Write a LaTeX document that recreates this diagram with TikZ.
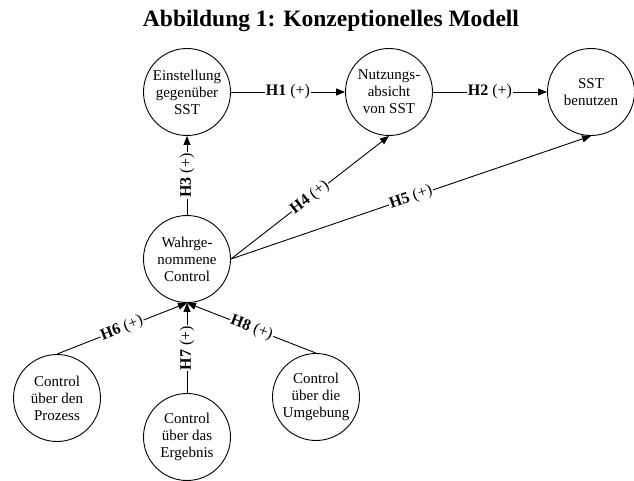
\documentclass[tikz,border=0pt]{standalone}
\usepackage{fontspec}
\setmainfont{Liberation Serif}
\usetikzlibrary{arrows.meta}
\begin{document}
\begin{tikzpicture}[x=1pt,y=-1pt,
  construct/.style={circle,draw,line width=0.9pt,minimum size=87pt,inner sep=0pt,
    align=center,font=\fontsize{15}{17}\selectfont},
  link/.style={line width=0.9pt,-{Triangle[length=9pt,width=7pt]}},
  hyp/.style={midway,fill=white,inner sep=1pt,font=\fontsize{16}{18}\selectfont}]
\useasboundingbox (0,0) rectangle (634,481);
\node[anchor=base,font=\fontsize{23.5}{26}\selectfont\bfseries] (title) at (331,27) {Abbildung 1: Konzeptionelles Modell};

\node[construct] (ein) at (187,92) {Einstellung\\gegenüber\\SST};
\node[construct] (nutz) at (389,92) {Nutzungs-\\absicht\\von SST};
\node[construct] (sst) at (591,92) {SST\\benutzen};
\node[construct] (wahr) at (187,259) {Wahrge-\\nommene\\Control};
\node[construct] (proz) at (57,398) {Control\\über den\\Prozess};
\node[construct] (erg) at (187,437) {Control\\über das\\Ergebnis};
\node[construct] (umg) at (316,397) {Control\\über die\\Umgebung};

\draw[link] (ein.east) -- node[hyp] {\textbf{H1} (+)} (nutz.west);
\draw[link] (nutz.east) -- node[hyp] {\textbf{H2} (+)} (sst.west);
\draw[link] (wahr.north) -- node[hyp,rotate=90] {\textbf{H3} (+)} (ein.south);
\draw[link] (wahr.east) -- node[hyp,sloped] {\textbf{H4} (+)} (nutz.south);
\draw[link] (wahr.east) -- node[hyp,sloped] {\textbf{H5} (+)} (sst.south);
\draw[link] (proz.north) -- node[hyp,sloped] {\textbf{H6} (+)} (wahr.south);
\draw[link] (erg.north) -- node[hyp,rotate=90] {\textbf{H7} (+)} (wahr.south);
\draw[link] (umg.north) -- node[hyp,sloped] {\textbf{H8} (+)} (wahr.south);
\end{tikzpicture}
\end{document}
